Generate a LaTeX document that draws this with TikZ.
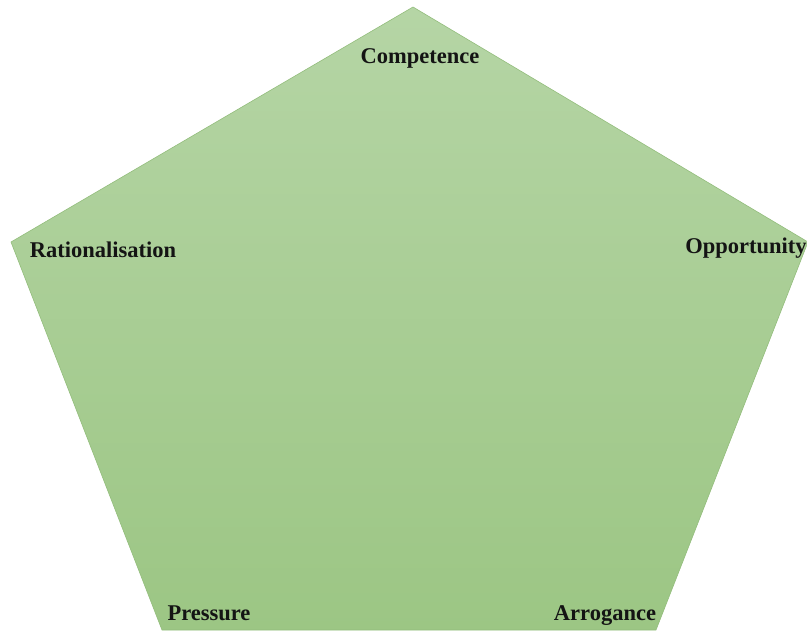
\documentclass[tikz,border=0pt]{standalone}
\usepackage{fontspec}
\setmainfont{Liberation Serif}
\definecolor{topgreen}{HTML}{B5D5A5}
\definecolor{botgreen}{HTML}{9CC684}
\definecolor{edgegreen}{HTML}{93BD7C}
\begin{document}
\begin{tikzpicture}[x=1pt,y=-1pt,
  lbl/.style={font=\fontsize{22.5}{26}\selectfont\bfseries, text=black!92, inner sep=0pt}]
\useasboundingbox (0,0) rectangle (807,632);
\coordinate (T) at (413,7);
\coordinate (L) at (11,242);
\coordinate (R) at (808,242);
\coordinate (BL) at (162,630);
\coordinate (BR) at (656,630);
\shade[top color=topgreen, bottom color=botgreen, draw=edgegreen, line width=0.6pt]
  (T) -- (R) -- (BR) -- (BL) -- (L) -- cycle;
\node[lbl] (comp) at (420,58) {Competence};
\node[lbl] (rat) at (103,250) {Rationalisation};
\node[lbl] (opp) at (746,248) {Opportunity};
\node[lbl] (pres) at (209,613) {Pressure};
\node[lbl] (arr) at (605,616) {Arrogance};
\end{tikzpicture}
\end{document}
